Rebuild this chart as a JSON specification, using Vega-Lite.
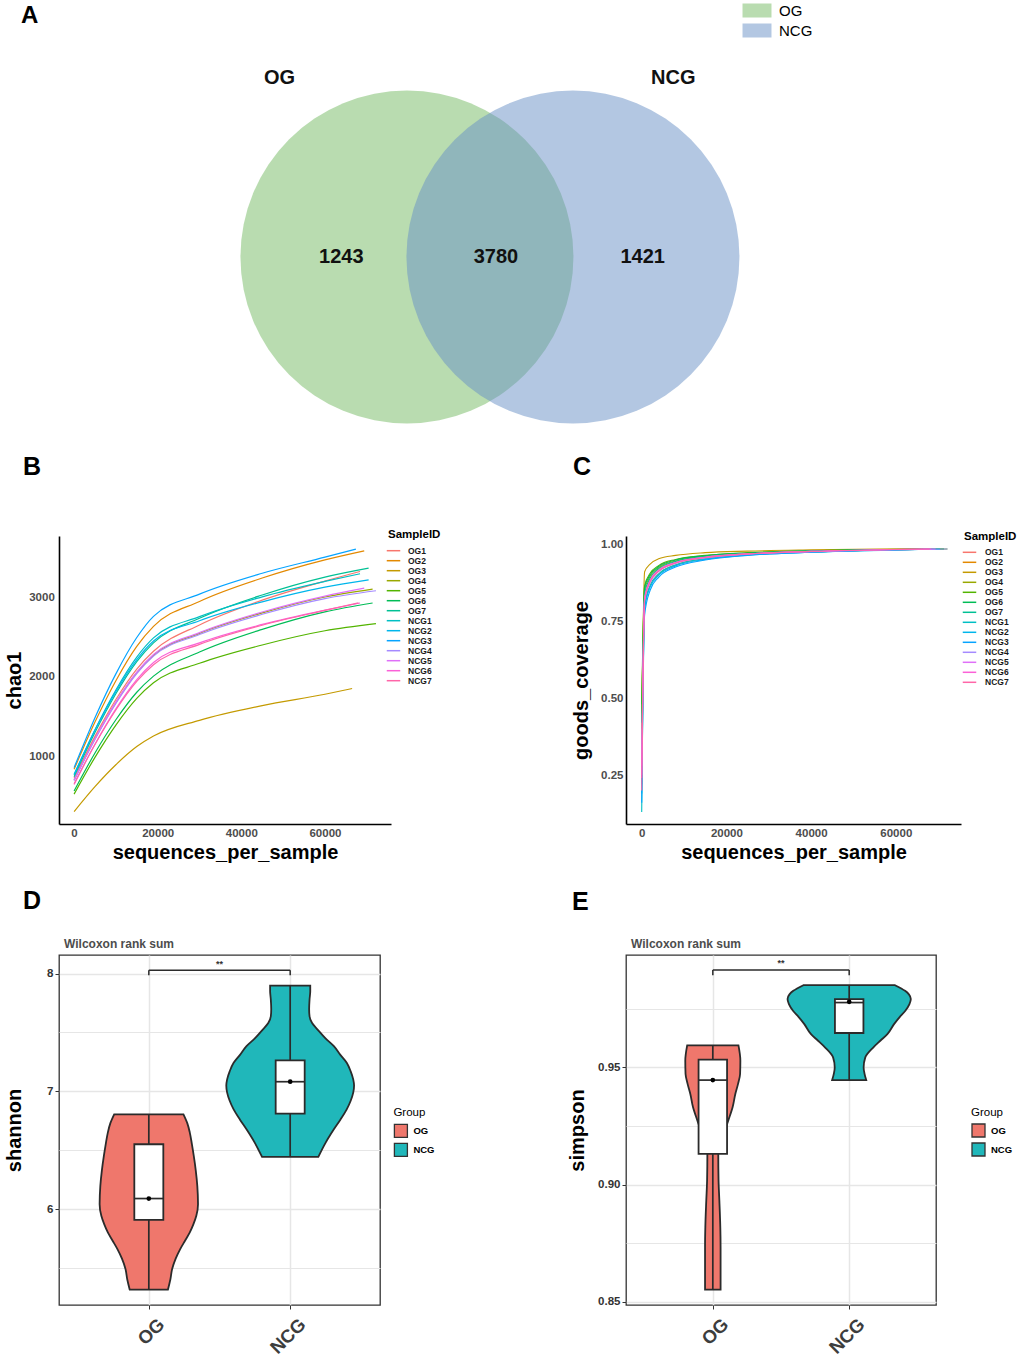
{
"$schema": "https://vega.github.io/schema/vega-lite/v6.json",
"background": "white",
"padding": {"left": 3, "top": 0, "right": 0, "bottom": 0},
"spacing": 25,
"resolve": {"scale": {"color": "independent"}, "legend": {"color": "independent"}},
"config": {
  "font": "Liberation Sans",
  "view": {"stroke": null},
  "axis": {"grid": false},
  "legend": {"padding": 0}
},
"vconcat": [
{
  "width": 960, "height": 430,
  "title": {"text": "A", "anchor": "start", "frame": "group", "dx": -38, "offset": -28, "fontSize": 24, "fontWeight": "bold", "color": "black"},
  "encoding": {
    "x": {"field": "x", "type": "quantitative", "scale": {"domain": [-2.596, 3.187], "nice": false, "zero": false}, "axis": null},
    "y": {"field": "y", "type": "quantitative", "scale": {"domain": [-1.042, 1.548], "nice": false, "zero": false}, "axis": null}
  },
  "layer": [
    {
      "data": {"values": [{"set": "OG", "x": -0.5, "y": 0}, {"set": "NCG", "x": 0.5, "y": 0}]},
      "mark": {"type": "point", "shape": "circle", "filled": true, "size": 110889, "opacity": 0.5, "strokeWidth": 0},
      "encoding": {
        "color": {"field": "set", "type": "nominal", "scale": {"domain": ["OG", "NCG"], "range": ["#73B961", "#678FC5"]},
          "legend": {"title": null, "orient": "none", "legendX": 690.5, "legendY": 3, "symbolType": "M-2.07,-1H2.07V1H-2.07Z", "symbolSize": 196, "symbolOpacity": 0.5, "symbolStrokeWidth": 0, "labelFontSize": 15, "labelColor": "black", "labelOffset": 14.5, "rowPadding": 4}}
      }
    },
    {
      "data": {"values": [{"t": "OG", "x": -1.268, "y": 1.078}, {"t": "NCG", "x": 1.104, "y": 1.078}]},
      "mark": {"type": "text", "fontSize": 20, "fontWeight": "bold", "color": "#111111"},
      "encoding": {"text": {"field": "t"}}
    },
    {
      "data": {"values": [{"t": "1243", "x": -0.895, "y": 0}, {"t": "3780", "x": 0.036, "y": 0}, {"t": "1421", "x": 0.92, "y": 0}]},
      "mark": {"type": "text", "fontSize": 20, "fontWeight": "bold", "color": "#111111"},
      "encoding": {"text": {"field": "t"}}
    }
  ]
},
{
  "hconcat": [
    {
      "width": 332, "height": 288,
      "title": {"text": "B", "anchor": "start", "frame": "group", "dx": -36, "offset": 49, "fontSize": 25, "fontWeight": "bold", "color": "black"},
      "data": {"values": [
        {"s":"OG1","x":10,"y":720},{"s":"OG1","x":5000,"y":1248},{"s":"OG1","x":10000,"y":1713},{"s":"OG1","x":15000,"y":2097},{"s":"OG1","x":19000,"y":2321},{"s":"OG1","x":30000,"y":2653},{"s":"OG1","x":45000,"y":2965},{"s":"OG1","x":60000,"y":3206},{"s":"OG1","x":68400,"y":3327},
        {"s":"OG2","x":10,"y":833},{"s":"OG2","x":5000,"y":1428},{"s":"OG2","x":10000,"y":1950},{"s":"OG2","x":15000,"y":2383},{"s":"OG2","x":19000,"y":2635},{"s":"OG2","x":30000,"y":2949},{"s":"OG2","x":45000,"y":3244},{"s":"OG2","x":60000,"y":3473},{"s":"OG2","x":69400,"y":3587},
        {"s":"OG3","x":10,"y":300},{"s":"OG3","x":5000,"y":614},{"s":"OG3","x":10000,"y":890},{"s":"OG3","x":15000,"y":1119},{"s":"OG3","x":19000,"y":1252},{"s":"OG3","x":30000,"y":1450},{"s":"OG3","x":45000,"y":1635},{"s":"OG3","x":60000,"y":1779},{"s":"OG3","x":66500,"y":1851},
        {"s":"OG4","x":10,"y":700},{"s":"OG4","x":5000,"y":1218},{"s":"OG4","x":10000,"y":1673},{"s":"OG4","x":15000,"y":2050},{"s":"OG4","x":19000,"y":2270},{"s":"OG4","x":30000,"y":2546},{"s":"OG4","x":45000,"y":2804},{"s":"OG4","x":60000,"y":3005},{"s":"OG4","x":71400,"y":3105},
        {"s":"OG5","x":10,"y":520},{"s":"OG5","x":5000,"y":983},{"s":"OG5","x":10000,"y":1390},{"s":"OG5","x":15000,"y":1727},{"s":"OG5","x":19000,"y":1923},{"s":"OG5","x":30000,"y":2169},{"s":"OG5","x":45000,"y":2400},{"s":"OG5","x":60000,"y":2579},{"s":"OG5","x":72200,"y":2669},
        {"s":"OG6","x":10,"y":560},{"s":"OG6","x":5000,"y":1038},{"s":"OG6","x":10000,"y":1457},{"s":"OG6","x":15000,"y":1804},{"s":"OG6","x":19000,"y":2007},{"s":"OG6","x":30000,"y":2311},{"s":"OG6","x":45000,"y":2597},{"s":"OG6","x":60000,"y":2818},{"s":"OG6","x":71400,"y":2929},
        {"s":"OG7","x":10,"y":740},{"s":"OG7","x":5000,"y":1296},{"s":"OG7","x":10000,"y":1785},{"s":"OG7","x":15000,"y":2190},{"s":"OG7","x":19000,"y":2426},{"s":"OG7","x":30000,"y":2737},{"s":"OG7","x":45000,"y":3030},{"s":"OG7","x":60000,"y":3256},{"s":"OG7","x":70450,"y":3369},
        {"s":"NCG1","x":10,"y":760},{"s":"NCG1","x":5000,"y":1331},{"s":"NCG1","x":10000,"y":1833},{"s":"NCG1","x":15000,"y":2248},{"s":"NCG1","x":19000,"y":2490},{"s":"NCG1","x":30000,"y":2757},{"s":"NCG1","x":45000,"y":3007},{"s":"NCG1","x":60000,"y":3201},{"s":"NCG1","x":68400,"y":3298},
        {"s":"NCG2","x":10,"y":770},{"s":"NCG2","x":5000,"y":1324},{"s":"NCG2","x":10000,"y":1812},{"s":"NCG2","x":15000,"y":2215},{"s":"NCG2","x":19000,"y":2450},{"s":"NCG2","x":30000,"y":2705},{"s":"NCG2","x":45000,"y":2944},{"s":"NCG2","x":60000,"y":3129},{"s":"NCG2","x":70450,"y":3222},
        {"s":"NCG3","x":10,"y":854},{"s":"NCG3","x":5000,"y":1483},{"s":"NCG3","x":10000,"y":2036},{"s":"NCG3","x":15000,"y":2494},{"s":"NCG3","x":19000,"y":2761},{"s":"NCG3","x":30000,"y":3041},{"s":"NCG3","x":45000,"y":3304},{"s":"NCG3","x":60000,"y":3507},{"s":"NCG3","x":67400,"y":3609},
        {"s":"NCG4","x":10,"y":690},{"s":"NCG4","x":5000,"y":1208},{"s":"NCG4","x":10000,"y":1663},{"s":"NCG4","x":15000,"y":2040},{"s":"NCG4","x":19000,"y":2260},{"s":"NCG4","x":30000,"y":2532},{"s":"NCG4","x":45000,"y":2787},{"s":"NCG4","x":60000,"y":2985},{"s":"NCG4","x":72200,"y":3084},
        {"s":"NCG5","x":10,"y":700},{"s":"NCG5","x":5000,"y":1221},{"s":"NCG5","x":10000,"y":1680},{"s":"NCG5","x":15000,"y":2059},{"s":"NCG5","x":19000,"y":2280},{"s":"NCG5","x":30000,"y":2556},{"s":"NCG5","x":45000,"y":2816},{"s":"NCG5","x":60000,"y":3017},{"s":"NCG5","x":69400,"y":3117},
        {"s":"NCG6","x":10,"y":640},{"s":"NCG6","x":5000,"y":1148},{"s":"NCG6","x":10000,"y":1595},{"s":"NCG6","x":15000,"y":1964},{"s":"NCG6","x":19000,"y":2180},{"s":"NCG6","x":30000,"y":2427},{"s":"NCG6","x":45000,"y":2659},{"s":"NCG6","x":60000,"y":2839},{"s":"NCG6","x":68400,"y":2929},
        {"s":"NCG7","x":10,"y":650},{"s":"NCG7","x":5000,"y":1145},{"s":"NCG7","x":10000,"y":1580},{"s":"NCG7","x":15000,"y":1940},{"s":"NCG7","x":19000,"y":2150},{"s":"NCG7","x":30000,"y":2407},{"s":"NCG7","x":45000,"y":2649},{"s":"NCG7","x":60000,"y":2836},{"s":"NCG7","x":68000,"y":2930}
      ]},
      "mark": {"type": "line", "strokeWidth": 1.2, "interpolate": "monotone"},
      "encoding": {
        "x": {"field": "x", "type": "quantitative", "scale": {"domain": [-3600, 75800], "nice": false, "zero": false},
          "axis": {"title": "sequences_per_sample", "values": [0, 20000, 40000, 60000], "format": "d", "domainColor": "black", "domainWidth": 1.6, "ticks": false, "labelPadding": 3, "labelFontSize": 11.5, "labelFontWeight": "bold", "labelColor": "#4D4D4D", "titleFontSize": 20, "titleFontWeight": "bold", "titleColor": "black", "titlePadding": 4}},
        "y": {"field": "y", "type": "quantitative", "scale": {"domain": [143, 3774], "nice": false, "zero": false},
          "axis": {"title": "chao1", "values": [1000, 2000, 3000], "format": "d", "domainColor": "black", "domainWidth": 1.6, "ticks": false, "labelPadding": 4.7, "labelFontSize": 11.5, "labelFontWeight": "bold", "labelColor": "#4D4D4D", "titleFontSize": 20, "titleFontWeight": "bold", "titleColor": "black", "titlePadding": 4}},
        "color": {"field": "s", "type": "nominal",
          "scale": {"domain": ["OG1","OG2","OG3","OG4","OG5","OG6","OG7","NCG1","NCG2","NCG3","NCG4","NCG5","NCG6","NCG7"], "range": ["#F8766D","#E38900","#C49A00","#99A800","#53B400","#00BC56","#00C094","#00BFC4","#00B6EB","#06A4FF","#A58AFF","#DF70F8","#FB61D7","#FF66A8"]},
          "legend": {"title": "SampleID", "orient": "none", "legendX": 329, "legendY": -7, "symbolType": "M-1.5,0H1.5", "symbolSize": 81, "symbolStrokeWidth": 1.5, "titleFontSize": 11.5, "titleFontWeight": "bold", "titleColor": "black", "titlePadding": 4.7, "labelFontSize": 8.5, "labelFontWeight": "bold", "labelColor": "#1A1A1A", "labelOffset": 9, "rowPadding": -0.8}}
      }
    },
    {
      "width": 335, "height": 288,
      "title": {"text": "C", "anchor": "start", "frame": "group", "dx": -53, "offset": 51, "fontSize": 25, "fontWeight": "bold", "color": "black"},
      "data": {"values": [
        {"s":"OG1","x":10,"c":0.30},{"s":"OG1","x":700,"c":0.83},{"s":"OG1","x":2000,"c":0.885},{"s":"OG1","x":4000,"c":0.917},{"s":"OG1","x":8000,"c":0.941},{"s":"OG1","x":15000,"c":0.958},{"s":"OG1","x":25000,"c":0.969},{"s":"OG1","x":40000,"c":0.976},{"s":"OG1","x":68400,"c":0.984},
        {"s":"OG2","x":10,"c":0.35},{"s":"OG2","x":700,"c":0.80},{"s":"OG2","x":2000,"c":0.865},{"s":"OG2","x":4000,"c":0.902},{"s":"OG2","x":8000,"c":0.932},{"s":"OG2","x":15000,"c":0.952},{"s":"OG2","x":25000,"c":0.965},{"s":"OG2","x":40000,"c":0.974},{"s":"OG2","x":69400,"c":0.983},
        {"s":"OG3","x":10,"c":0.40},{"s":"OG3","x":700,"c":0.91},{"s":"OG3","x":2000,"c":0.935},{"s":"OG3","x":4000,"c":0.952},{"s":"OG3","x":8000,"c":0.963},{"s":"OG3","x":15000,"c":0.972},{"s":"OG3","x":25000,"c":0.977},{"s":"OG3","x":40000,"c":0.981},{"s":"OG3","x":66500,"c":0.985},
        {"s":"OG4","x":10,"c":0.45},{"s":"OG4","x":700,"c":0.85},{"s":"OG4","x":2000,"c":0.895},{"s":"OG4","x":4000,"c":0.923},{"s":"OG4","x":8000,"c":0.945},{"s":"OG4","x":15000,"c":0.960},{"s":"OG4","x":25000,"c":0.970},{"s":"OG4","x":40000,"c":0.977},{"s":"OG4","x":71400,"c":0.984},
        {"s":"OG5","x":10,"c":0.48},{"s":"OG5","x":700,"c":0.865},{"s":"OG5","x":2000,"c":0.905},{"s":"OG5","x":4000,"c":0.930},{"s":"OG5","x":8000,"c":0.950},{"s":"OG5","x":15000,"c":0.963},{"s":"OG5","x":25000,"c":0.972},{"s":"OG5","x":40000,"c":0.978},{"s":"OG5","x":72200,"c":0.984},
        {"s":"OG6","x":10,"c":0.42},{"s":"OG6","x":700,"c":0.86},{"s":"OG6","x":2000,"c":0.900},{"s":"OG6","x":4000,"c":0.927},{"s":"OG6","x":8000,"c":0.948},{"s":"OG6","x":15000,"c":0.962},{"s":"OG6","x":25000,"c":0.971},{"s":"OG6","x":40000,"c":0.978},{"s":"OG6","x":71400,"c":0.984},
        {"s":"OG7","x":10,"c":0.22},{"s":"OG7","x":700,"c":0.84},{"s":"OG7","x":2000,"c":0.890},{"s":"OG7","x":4000,"c":0.920},{"s":"OG7","x":8000,"c":0.943},{"s":"OG7","x":15000,"c":0.959},{"s":"OG7","x":25000,"c":0.969},{"s":"OG7","x":40000,"c":0.977},{"s":"OG7","x":70450,"c":0.984},
        {"s":"NCG1","x":10,"c":0.13},{"s":"NCG1","x":700,"c":0.80},{"s":"NCG1","x":2000,"c":0.865},{"s":"NCG1","x":4000,"c":0.902},{"s":"NCG1","x":8000,"c":0.932},{"s":"NCG1","x":15000,"c":0.952},{"s":"NCG1","x":25000,"c":0.965},{"s":"NCG1","x":40000,"c":0.974},{"s":"NCG1","x":68400,"c":0.983},
        {"s":"NCG2","x":10,"c":0.19},{"s":"NCG2","x":700,"c":0.79},{"s":"NCG2","x":2000,"c":0.860},{"s":"NCG2","x":4000,"c":0.898},{"s":"NCG2","x":8000,"c":0.929},{"s":"NCG2","x":15000,"c":0.950},{"s":"NCG2","x":25000,"c":0.964},{"s":"NCG2","x":40000,"c":0.973},{"s":"NCG2","x":70450,"c":0.983},
        {"s":"NCG3","x":10,"c":0.16},{"s":"NCG3","x":700,"c":0.77},{"s":"NCG3","x":2000,"c":0.850},{"s":"NCG3","x":4000,"c":0.892},{"s":"NCG3","x":8000,"c":0.925},{"s":"NCG3","x":15000,"c":0.948},{"s":"NCG3","x":25000,"c":0.963},{"s":"NCG3","x":40000,"c":0.973},{"s":"NCG3","x":67400,"c":0.983},
        {"s":"NCG4","x":10,"c":0.25},{"s":"NCG4","x":700,"c":0.815},{"s":"NCG4","x":2000,"c":0.875},{"s":"NCG4","x":4000,"c":0.910},{"s":"NCG4","x":8000,"c":0.937},{"s":"NCG4","x":15000,"c":0.955},{"s":"NCG4","x":25000,"c":0.967},{"s":"NCG4","x":40000,"c":0.975},{"s":"NCG4","x":72200,"c":0.984},
        {"s":"NCG5","x":10,"c":0.28},{"s":"NCG5","x":700,"c":0.825},{"s":"NCG5","x":2000,"c":0.882},{"s":"NCG5","x":4000,"c":0.915},{"s":"NCG5","x":8000,"c":0.940},{"s":"NCG5","x":15000,"c":0.957},{"s":"NCG5","x":25000,"c":0.968},{"s":"NCG5","x":40000,"c":0.976},{"s":"NCG5","x":69400,"c":0.984},
        {"s":"NCG6","x":10,"c":0.24},{"s":"NCG6","x":700,"c":0.82},{"s":"NCG6","x":2000,"c":0.880},{"s":"NCG6","x":4000,"c":0.913},{"s":"NCG6","x":8000,"c":0.939},{"s":"NCG6","x":15000,"c":0.957},{"s":"NCG6","x":25000,"c":0.968},{"s":"NCG6","x":40000,"c":0.976},{"s":"NCG6","x":68400,"c":0.984},
        {"s":"NCG7","x":10,"c":0.20},{"s":"NCG7","x":700,"c":0.82},{"s":"NCG7","x":2000,"c":0.878},{"s":"NCG7","x":4000,"c":0.912},{"s":"NCG7","x":8000,"c":0.938},{"s":"NCG7","x":15000,"c":0.956},{"s":"NCG7","x":25000,"c":0.968},{"s":"NCG7","x":40000,"c":0.976},{"s":"NCG7","x":68000,"c":0.984}
      ]},
      "mark": {"type": "line", "strokeWidth": 1.1, "interpolate": "monotone"},
      "encoding": {
        "x": {"field": "x", "type": "quantitative", "scale": {"domain": [-3700, 75400], "nice": false, "zero": false},
          "axis": {"title": "sequences_per_sample", "values": [0, 20000, 40000, 60000], "format": "d", "domainColor": "black", "domainWidth": 1.6, "ticks": false, "labelPadding": 3, "labelFontSize": 11.5, "labelFontWeight": "bold", "labelColor": "#4D4D4D", "titleFontSize": 20, "titleFontWeight": "bold", "titleColor": "black", "titlePadding": 4}},
        "y": {"field": "c", "type": "quantitative", "scale": {"domain": [0.091, 1.026], "nice": false, "zero": false},
          "axis": {"title": "goods_coverage", "values": [0.25, 0.5, 0.75, 1], "format": ".2f", "domainColor": "black", "domainWidth": 1.6, "ticks": false, "labelPadding": 3, "labelFontSize": 11.5, "labelFontWeight": "bold", "labelColor": "#4D4D4D", "titleFontSize": 20, "titleFontWeight": "bold", "titleColor": "black", "titlePadding": 9}},
        "color": {"field": "s", "type": "nominal",
          "scale": {"domain": ["OG1","OG2","OG3","OG4","OG5","OG6","OG7","NCG1","NCG2","NCG3","NCG4","NCG5","NCG6","NCG7"], "range": ["#F8766D","#E38900","#C49A00","#99A800","#53B400","#00BC56","#00C094","#00BFC4","#00B6EB","#06A4FF","#A58AFF","#DF70F8","#FB61D7","#FF66A8"]},
          "legend": {"title": "SampleID", "orient": "none", "legendX": 338, "legendY": -5, "symbolType": "M-1.5,0H1.5", "symbolSize": 81, "symbolStrokeWidth": 1.5, "titleFontSize": 11.5, "titleFontWeight": "bold", "titleColor": "black", "titlePadding": 4.3, "labelFontSize": 8.5, "labelFontWeight": "bold", "labelColor": "#1A1A1A", "labelOffset": 10, "rowPadding": -0.7}}
      }
    }
  ],
  "spacing": 130,
  "resolve": {"scale": {"color": "independent"}, "legend": {"color": "independent"}}
},
{
  "hconcat": [
    {
      "width": 321, "height": 350,
      "view": {"stroke": "#333333", "strokeWidth": 1.3, "fill": "white"},
      "title": {"text": "D", "anchor": "start", "frame": "group", "dx": -36, "offset": 24, "fontSize": 25, "fontWeight": "bold", "color": "black"},
      "layer": [
        {
          "data": {"values": [
            {"g":"OG","v":5.316,"lo":0.865,"hi":1.135},{"g":"OG","v":5.40,"lo":0.848,"hi":1.152},{"g":"OG","v":5.492,"lo":0.835,"hi":1.165},{"g":"OG","v":5.58,"lo":0.81,"hi":1.19},{"g":"OG","v":5.661,"lo":0.778,"hi":1.222},{"g":"OG","v":5.73,"lo":0.745,"hi":1.255},{"g":"OG","v":5.802,"lo":0.71,"hi":1.29},{"g":"OG","v":5.87,"lo":0.685,"hi":1.315},{"g":"OG","v":5.943,"lo":0.664,"hi":1.336},{"g":"OG","v":6.042,"lo":0.652,"hi":1.348},{"g":"OG","v":6.198,"lo":0.657,"hi":1.343},{"g":"OG","v":6.33,"lo":0.668,"hi":1.332},{"g":"OG","v":6.452,"lo":0.682,"hi":1.318},{"g":"OG","v":6.55,"lo":0.695,"hi":1.305},{"g":"OG","v":6.65,"lo":0.71,"hi":1.29},{"g":"OG","v":6.73,"lo":0.728,"hi":1.272},{"g":"OG","v":6.805,"lo":0.755,"hi":1.245},
            {"g":"NCG","v":6.443,"lo":1.801,"hi":2.199},{"g":"NCG","v":6.565,"lo":1.749,"hi":2.251},{"g":"NCG","v":6.678,"lo":1.691,"hi":2.309},{"g":"NCG","v":6.76,"lo":1.645,"hi":2.355},{"g":"NCG","v":6.847,"lo":1.60,"hi":2.40},{"g":"NCG","v":6.92,"lo":1.572,"hi":2.428},{"g":"NCG","v":6.989,"lo":1.554,"hi":2.446},{"g":"NCG","v":7.05,"lo":1.548,"hi":2.452},{"g":"NCG","v":7.102,"lo":1.554,"hi":2.446},{"g":"NCG","v":7.17,"lo":1.572,"hi":2.428},{"g":"NCG","v":7.243,"lo":1.60,"hi":2.40},{"g":"NCG","v":7.31,"lo":1.645,"hi":2.355},{"g":"NCG","v":7.384,"lo":1.691,"hi":2.309},{"g":"NCG","v":7.45,"lo":1.75,"hi":2.25},{"g":"NCG","v":7.525,"lo":1.806,"hi":2.194},{"g":"NCG","v":7.58,"lo":1.845,"hi":2.155},{"g":"NCG","v":7.638,"lo":1.863,"hi":2.137},{"g":"NCG","v":7.70,"lo":1.866,"hi":2.134},{"g":"NCG","v":7.78,"lo":1.863,"hi":2.137},{"g":"NCG","v":7.85,"lo":1.858,"hi":2.142},{"g":"NCG","v":7.898,"lo":1.858,"hi":2.142}
          ]},
          "mark": {"type": "area", "orient": "horizontal", "interpolate": "monotone", "stroke": "#2B2B2B", "strokeWidth": 1.8, "opacity": 1},
          "encoding": {
            "y": {"field": "v", "type": "quantitative", "scale": {"domain": [5.186, 8.158], "nice": false, "zero": false},
              "axis": {"title": "shannon", "values": [5.5, 6, 6.5, 7, 7.5, 8], "labelExpr": "datum.value % 1 == 0 ? format(datum.value, 'd') : ''", "tickOpacity": {"condition": {"test": "datum.value % 1 != 0", "value": 0}, "value": 1}, "gridWidth": {"condition": {"test": "datum.value % 1 != 0", "value": 1.1}, "value": 1.5}, "grid": true, "gridColor": "#E6E6E6", "domain": false, "tickSize": 4, "tickColor": "#333333", "labelPadding": 2, "labelFontSize": 11.5, "labelFontWeight": "bold", "labelColor": "#333333", "titleFontSize": 20, "titleFontWeight": "bold", "titleColor": "black", "titlePadding": 22}},
            "x": {"field": "lo", "type": "quantitative", "scale": {"domain": [0.4, 2.6], "nice": false, "zero": false},
              "axis": {"title": null, "values": [1, 2], "labelExpr": "datum.value == 1 ? 'OG' : 'NCG'", "grid": true, "gridColor": "#E6E6E6", "gridWidth": 1.5, "domain": false, "tickSize": 4, "tickColor": "#333333", "labelAngle": -45, "labelAlign": "right", "labelBaseline": "middle", "labelFontSize": 18.5, "labelFontWeight": "bold", "labelColor": "#3D3D3D", "labelPadding": 12, "labelOffset": 12}},
            "x2": {"field": "hi"},
            "color": {"field": "g", "type": "nominal", "scale": {"domain": ["OG", "NCG"], "range": ["#EF776C", "#20B7BA"]},
              "legend": {"title": "Group", "orient": "none", "legendX": 334.4, "legendY": 151.8, "symbolType": "square", "symbolSize": 169, "symbolStrokeColor": "#333333", "symbolStrokeWidth": 1.3, "symbolOpacity": 1, "titleFontSize": 11.5, "titleFontWeight": "normal", "titleColor": "black", "titlePadding": 5, "labelFontSize": 9.5, "labelFontWeight": "bold", "labelColor": "black", "labelOffset": 5, "rowPadding": 0}}
          }
        },
        {
          "data": {"values": [{"g":"OG","pos":1,"min":5.316,"q1":5.909,"med":6.09,"q3":6.551,"max":6.805,"mean":6.09},{"g":"NCG","pos":2,"min":6.443,"q1":6.811,"med":7.082,"q3":7.263,"max":7.898,"mean":7.082}]},
          "layer": [
            {"mark": {"type": "rule", "color": "#2B2B2B", "strokeWidth": 1.7}, "encoding": {"x": {"field": "pos", "type": "quantitative"}, "y": {"field": "min", "type": "quantitative"}, "y2": {"field": "max"}}},
            {"mark": {"type": "bar", "width": 29, "fill": "white", "stroke": "#2B2B2B", "strokeWidth": 1.8}, "encoding": {"x": {"field": "pos", "type": "quantitative"}, "y": {"field": "q1", "type": "quantitative"}, "y2": {"field": "q3"}}},
            {"mark": {"type": "tick", "orient": "horizontal", "size": 29, "thickness": 1.7, "color": "#2B2B2B", "opacity": 1}, "encoding": {"x": {"field": "pos", "type": "quantitative"}, "y": {"field": "med", "type": "quantitative"}}},
            {"mark": {"type": "point", "filled": true, "size": 22, "color": "black", "opacity": 1}, "encoding": {"x": {"field": "pos", "type": "quantitative"}, "y": {"field": "mean", "type": "quantitative"}}}
          ]
        },
        {
          "data": {"values": [{"x":1,"x2":2,"y":8.028,"y2":8.028},{"x":1,"x2":1,"y":7.986,"y2":8.028},{"x":2,"x2":2,"y":7.986,"y2":8.028}]},
          "mark": {"type": "rule", "color": "#2B2B2B", "strokeWidth": 1.5},
          "encoding": {"x": {"field": "x", "type": "quantitative"}, "x2": {"field": "x2"}, "y": {"field": "y", "type": "quantitative"}, "y2": {"field": "y2"}}
        },
        {
          "data": {"values": [{"x":1.5,"y":8.085,"t":"**"}]},
          "mark": {"type": "text", "fontSize": 9, "fontWeight": "bold", "color": "#333333"},
          "encoding": {"x": {"field": "x", "type": "quantitative"}, "y": {"field": "y", "type": "quantitative"}, "text": {"field": "t"}}
        },
        {
          "data": {"values": [{"x":0.4,"y":8.254,"t":"Wilcoxon rank sum"}]},
          "mark": {"type": "text", "align": "left", "baseline": "middle", "fontSize": 12, "fontWeight": "bold", "color": "#4D4D4D"},
          "encoding": {"x": {"field": "x", "type": "quantitative"}, "y": {"field": "y", "type": "quantitative"}, "text": {"field": "t"}}
        }
      ]
    },
    {
      "width": 310, "height": 350,
      "view": {"stroke": "#333333", "strokeWidth": 1.3, "fill": "white"},
      "title": {"text": "E", "anchor": "start", "frame": "group", "dx": -54, "offset": 23, "fontSize": 25, "fontWeight": "bold", "color": "black"},
      "layer": [
        {
          "data": {"values": [
            {"g":"OG","v":0.8552,"lo":0.943,"hi":1.057},{"g":"OG","v":0.865,"lo":0.943,"hi":1.057},{"g":"OG","v":0.8733,"lo":0.943,"hi":1.057},{"g":"OG","v":0.8818,"lo":0.945,"hi":1.055},{"g":"OG","v":0.8932,"lo":0.952,"hi":1.048},{"g":"OG","v":0.9017,"lo":0.958,"hi":1.042},{"g":"OG","v":0.9131,"lo":0.96,"hi":1.04},{"g":"OG","v":0.92,"lo":0.93,"hi":1.07},{"g":"OG","v":0.9273,"lo":0.887,"hi":1.113},{"g":"OG","v":0.933,"lo":0.855,"hi":1.145},{"g":"OG","v":0.9387,"lo":0.835,"hi":1.165},{"g":"OG","v":0.943,"lo":0.815,"hi":1.185},{"g":"OG","v":0.9472,"lo":0.80,"hi":1.20},{"g":"OG","v":0.9529,"lo":0.798,"hi":1.202},{"g":"OG","v":0.9594,"lo":0.812,"hi":1.188},
            {"g":"NCG","v":0.9446,"lo":1.875,"hi":2.125},{"g":"NCG","v":0.9475,"lo":1.888,"hi":2.112},{"g":"NCG","v":0.95,"lo":1.894,"hi":2.106},{"g":"NCG","v":0.9543,"lo":1.882,"hi":2.118},{"g":"NCG","v":0.9585,"lo":1.824,"hi":2.176},{"g":"NCG","v":0.9615,"lo":1.77,"hi":2.23},{"g":"NCG","v":0.9642,"lo":1.72,"hi":2.28},{"g":"NCG","v":0.9685,"lo":1.671,"hi":2.329},{"g":"NCG","v":0.9715,"lo":1.63,"hi":2.37},{"g":"NCG","v":0.9742,"lo":1.588,"hi":2.412},{"g":"NCG","v":0.977,"lo":1.558,"hi":2.442},{"g":"NCG","v":0.9792,"lo":1.548,"hi":2.452},{"g":"NCG","v":0.9812,"lo":1.562,"hi":2.438},{"g":"NCG","v":0.9827,"lo":1.59,"hi":2.41},{"g":"NCG","v":0.9851,"lo":1.664,"hi":2.336}
          ]},
          "mark": {"type": "area", "orient": "horizontal", "interpolate": "monotone", "stroke": "#2B2B2B", "strokeWidth": 1.8, "opacity": 1},
          "encoding": {
            "y": {"field": "v", "type": "quantitative", "scale": {"domain": [0.8486, 0.998], "nice": false, "zero": false},
              "axis": {"title": "simpson", "values": [0.85, 0.875, 0.9, 0.925, 0.95, 0.975], "labelExpr": "(datum.value == 0.875 || datum.value == 0.925 || datum.value == 0.975) ? '' : format(datum.value, '.2f')", "tickOpacity": {"condition": {"test": "datum.value == 0.875 || datum.value == 0.925 || datum.value == 0.975", "value": 0}, "value": 1}, "gridWidth": {"condition": {"test": "datum.value == 0.875 || datum.value == 0.925 || datum.value == 0.975", "value": 1.1}, "value": 1.5}, "grid": true, "gridColor": "#E6E6E6", "domain": false, "tickSize": 4, "tickColor": "#333333", "labelPadding": 2, "labelFontSize": 11.5, "labelFontWeight": "bold", "labelColor": "#333333", "titleFontSize": 20, "titleFontWeight": "bold", "titleColor": "black", "titlePadding": 10}},
            "x": {"field": "lo", "type": "quantitative", "scale": {"domain": [0.4, 2.6], "nice": false, "zero": false},
              "axis": {"title": null, "values": [1, 2], "labelExpr": "datum.value == 1 ? 'OG' : 'NCG'", "grid": true, "gridColor": "#E6E6E6", "gridWidth": 1.5, "domain": false, "tickSize": 4, "tickColor": "#333333", "labelAngle": -45, "labelAlign": "right", "labelBaseline": "middle", "labelFontSize": 18.5, "labelFontWeight": "bold", "labelColor": "#3D3D3D", "labelPadding": 12, "labelOffset": 12}},
            "x2": {"field": "hi"},
            "color": {"field": "g", "type": "nominal", "scale": {"domain": ["OG", "NCG"], "range": ["#EF776C", "#20B7BA"]},
              "legend": {"title": "Group", "orient": "none", "legendX": 345, "legendY": 151.5, "symbolType": "square", "symbolSize": 169, "symbolStrokeColor": "#333333", "symbolStrokeWidth": 1.3, "symbolOpacity": 1, "titleFontSize": 11.5, "titleFontWeight": "normal", "titleColor": "black", "titlePadding": 5, "labelFontSize": 9.5, "labelFontWeight": "bold", "labelColor": "black", "labelOffset": 5, "rowPadding": 0}}
          }
        },
        {
          "data": {"values": [{"g":"OG","pos":1,"min":0.8552,"q1":0.9131,"med":0.9446,"q3":0.9533,"max":0.9594,"mean":0.9446},{"g":"NCG","pos":2,"min":0.9446,"q1":0.9647,"med":0.9777,"q3":0.9792,"max":0.9851,"mean":0.978}]},
          "layer": [
            {"mark": {"type": "rule", "color": "#2B2B2B", "strokeWidth": 1.7}, "encoding": {"x": {"field": "pos", "type": "quantitative"}, "y": {"field": "min", "type": "quantitative"}, "y2": {"field": "max"}}},
            {"mark": {"type": "bar", "width": 28.5, "fill": "white", "stroke": "#2B2B2B", "strokeWidth": 1.8}, "encoding": {"x": {"field": "pos", "type": "quantitative"}, "y": {"field": "q1", "type": "quantitative"}, "y2": {"field": "q3"}}},
            {"mark": {"type": "tick", "orient": "horizontal", "size": 28.5, "thickness": 1.7, "color": "#2B2B2B", "opacity": 1}, "encoding": {"x": {"field": "pos", "type": "quantitative"}, "y": {"field": "med", "type": "quantitative"}}},
            {"mark": {"type": "point", "filled": true, "size": 22, "color": "black", "opacity": 1}, "encoding": {"x": {"field": "pos", "type": "quantitative"}, "y": {"field": "mean", "type": "quantitative"}}}
          ]
        },
        {
          "data": {"values": [{"x":1,"x2":2,"y":0.9916,"y2":0.9916},{"x":1,"x2":1,"y":0.9894,"y2":0.9916},{"x":2,"x2":2,"y":0.9894,"y2":0.9916}]},
          "mark": {"type": "rule", "color": "#2B2B2B", "strokeWidth": 1.5},
          "encoding": {"x": {"field": "x", "type": "quantitative"}, "x2": {"field": "x2"}, "y": {"field": "y", "type": "quantitative"}, "y2": {"field": "y2"}}
        },
        {
          "data": {"values": [{"x":1.5,"y":0.9947,"t":"**"}]},
          "mark": {"type": "text", "fontSize": 9, "fontWeight": "bold", "color": "#333333"},
          "encoding": {"x": {"field": "x", "type": "quantitative"}, "y": {"field": "y", "type": "quantitative"}, "text": {"field": "t"}}
        },
        {
          "data": {"values": [{"x":0.4,"y":1.0029,"t":"Wilcoxon rank sum"}]},
          "mark": {"type": "text", "align": "left", "baseline": "middle", "fontSize": 12, "fontWeight": "bold", "color": "#4D4D4D"},
          "encoding": {"x": {"field": "x", "type": "quantitative"}, "y": {"field": "y", "type": "quantitative"}, "text": {"field": "t"}}
        }
      ]
    }
  ],
  "spacing": 129,
  "resolve": {"scale": {"color": "independent"}, "legend": {"color": "independent"}}
}
]
}
